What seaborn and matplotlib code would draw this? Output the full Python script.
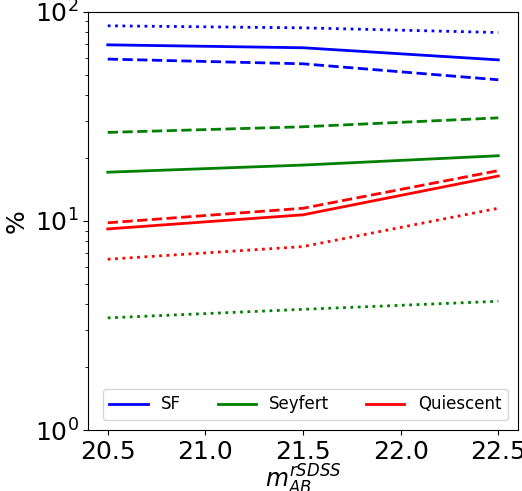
import matplotlib
matplotlib.use('Agg')
from matplotlib import pyplot as plt
import pandas as pd
import seaborn as sns

mag = [20.5, 21.5, 22.5]

# SF
sf_solid = [69.5, 67.3, 58.9]
sf_dashed = [59.4, 56.4, 47.3]
sf_dotted = [85.7, 83.8, 79.6]
# Seyfert
sey_solid = [17.1, 18.5, 20.5]
sey_dashed = [26.5, 28.2, 31.1]
sey_dotted = [3.44, 3.78, 4.13]
# Quiescent
qui_solid = [9.16, 10.7, 16.4]
qui_dashed = [9.8, 11.5, 17.4]
qui_dotted = [6.56, 7.54, 11.5]

classes = ['SF', 'Seyfert', 'Quiescent']
colors = {'SF': 'blue', 'Seyfert': 'green', 'Quiescent': 'red'}
series = {
    ('SF', '-'): sf_solid, ('SF', '--'): sf_dashed, ('SF', ':'): sf_dotted,
    ('Seyfert', '-'): sey_solid, ('Seyfert', '--'): sey_dashed, ('Seyfert', ':'): sey_dotted,
    ('Quiescent', '-'): qui_solid, ('Quiescent', '--'): qui_dashed, ('Quiescent', ':'): qui_dotted,
}

fig = plt.figure(figsize=(5.22, 4.91), dpi=100)
ax = fig.add_axes([0.169, 0.124, 0.823, 0.852])

for (cls, ls), vals in series.items():
    df = pd.DataFrame({'mag': mag, 'pct': vals})
    sns.lineplot(data=df, x='mag', y='pct', color=colors[cls], linestyle=ls,
                 linewidth=2, ax=ax, label=cls if ls == '-' else None)

ax.set_yscale('log')
ax.set_ylim(1, 100)
ax.set_xticks([20.5, 21.0, 21.5, 22.0, 22.5])
ax.tick_params(axis='both', which='major', labelsize=18)
ax.set_xlabel(r'$m_{AB}^{rSDSS}$', fontsize=17, labelpad=-1)
ax.set_ylabel('%', fontsize=18)
ax.legend(ncol=3, loc='lower right', fontsize=12, handlelength=2.3,
          columnspacing=2.2, borderaxespad=0.6)

fig.savefig('out.png', dpi=100)
